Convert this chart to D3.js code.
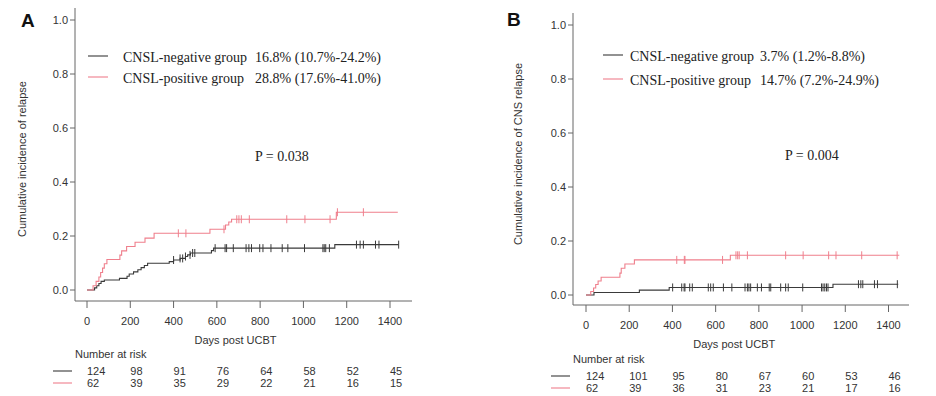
<!DOCTYPE html>
<html>
<head>
<meta charset="utf-8">
<script src="https://cdn.jsdelivr.net/npm/d3@7"></script>
<style>
  body { margin: 0; background: #fff; }
  svg { display: block; }
  .tick-lab { font-family: "Liberation Sans", Arial, sans-serif; font-size: 11px; fill: #333; }
  .leg { font-family: "Liberation Serif", "Times New Roman", serif; font-size: 14px; fill: #222; }
</style>
</head>
<body>
<svg id="chart" width="936" height="396"></svg>
<script>
// x ticks (days) and y ticks shared by both panels
var xTicks = [0, 200, 400, 600, 800, 1000, 1200, 1400];
var yTicks = [0, 0.2, 0.4, 0.6, 0.8, 1.0];

// panel A: cumulative incidence of relapse, steps are [day, value]
var relNegSteps = [[0, 0], [35, 0.008], [45, 0.016], [55, 0.024], [65, 0.032], [80, 0.037], [150, 0.043],
  [185, 0.051], [195, 0.059], [215, 0.067], [235, 0.075], [250, 0.083], [265, 0.091], [280, 0.099],
  [380, 0.105], [400, 0.111], [430, 0.117], [455, 0.124], [465, 0.130], [478, 0.137], [575, 0.146],
  [585, 0.155], [1145, 0.168]];
var relNegCensor = [400, 430, 442, 455, 476, 488, 498, 592, 638, 645, 676, 735, 748, 760, 798, 813, 850,
  902, 928, 1005, 1090, 1096, 1103, 1120, 1245, 1262, 1277, 1333, 1349, 1440];
var relNegEnd = 1440;
var relPosSteps = [[0, 0], [28, 0.016], [42, 0.032], [55, 0.048], [63, 0.065], [72, 0.081], [80, 0.097],
  [92, 0.113], [152, 0.129], [160, 0.145], [183, 0.161], [222, 0.177], [268, 0.192], [310, 0.21],
  [568, 0.225], [640, 0.241], [655, 0.252], [668, 0.262], [1152, 0.288]];
var relPosCensor = [422, 457, 633, 692, 702, 713, 750, 923, 1007, 1123, 1157, 1277];
var relPosEnd = 1436;
var riskNegA = [124, 98, 91, 76, 64, 58, 52, 45];
var riskPosA = [62, 39, 35, 29, 22, 21, 16, 15];

// panel B: cumulative incidence of CNS relapse
var cnsNegSteps = [[0, 0], [37, 0.009], [247, 0.018], [385, 0.028], [1143, 0.040]];
var cnsNegCensor = [401, 443, 454, 458, 480, 492, 566, 577, 589, 636, 675, 736, 747, 754, 762, 793, 812,
  848, 855, 901, 924, 936, 1003, 1090, 1097, 1105, 1113, 1120, 1261, 1272, 1281, 1335, 1349, 1441];
var cnsNegEnd = 1445;
var cnsPosSteps = [[0, 0], [22, 0.013], [35, 0.026], [45, 0.039], [56, 0.052], [70, 0.066], [157, 0.081],
  [163, 0.099], [180, 0.115], [224, 0.130], [668, 0.147]];
var cnsPosCensor = [420, 455, 458, 632, 694, 702, 709, 747, 924, 1005, 1123, 1157, 1276, 1440];
var cnsPosEnd = 1450;
var riskNegB = [124, 101, 95, 80, 67, 60, 53, 46];
var riskPosB = [62, 39, 36, 31, 23, 21, 17, 16];

var NEG_COL = '#3a3a3a', POS_COL = '#ef7f8c', AXIS_COL = '#666';
var svg = d3.select('#chart');

function drawPanel(p) {
  var g = svg.append('g');
  var x = d3.scaleLinear().domain([0, 1400]).range([p.x0, p.x1]);
  var y = d3.scaleLinear().domain([0, 1]).range([p.y0, p.y1]);

  // L-shaped frame
  g.append('path')
    .attr('d', 'M' + p.ax + ',' + p.axTop + 'V' + p.axY + 'H' + p.axRight)
    .attr('fill', 'none').attr('stroke', AXIS_COL).attr('stroke-width', 1);

  // y ticks
  yTicks.forEach(function(v) {
    g.append('line').attr('x1', p.ax - 5).attr('x2', p.ax).attr('y1', y(v)).attr('y2', y(v))
      .attr('stroke', AXIS_COL);
    g.append('text').attr('class', 'tick-lab').attr('x', p.ax - 7).attr('y', y(v)).attr('dy', '0.35em')
      .attr('text-anchor', 'end').text(d3.format('.1f')(v));
  });
  // x ticks
  xTicks.forEach(function(t) {
    g.append('line').attr('x1', x(t)).attr('x2', x(t)).attr('y1', p.axY).attr('y2', p.axY + 7)
      .attr('stroke', AXIS_COL);
    g.append('text').attr('class', 'tick-lab').attr('x', x(t)).attr('y', p.axY + 24)
      .attr('text-anchor', 'middle').text(t);
  });
  g.append('text').attr('class', 'tick-lab').attr('x', (p.x0 + p.x1) / 2 - 3).attr('y', p.axY + 43)
    .attr('text-anchor', 'middle').text('Days post UCBT');

  // y label
  g.append('text').attr('class', 'tick-lab')
    .attr('transform', 'translate(' + p.ylabX + ',' + p.ylabY + ') rotate(-90)')
    .attr('text-anchor', 'middle').text(p.ylab);

  // panel letter
  g.append('text').attr('x', p.letterX).attr('y', p.letterY)
    .style('font-family', '"Liberation Sans", Arial, sans-serif').style('font-weight', 'bold')
    .style('font-size', '19px').attr('fill', '#111').text(p.letter);

  // curves
  var line = d3.line().x(function(d) { return x(d[0]); }).y(function(d) { return y(d[1]); })
    .curve(d3.curveStepAfter);
  function valueAt(steps, t) {
    var v = 0;
    steps.forEach(function(s) { if (s[0] <= t) { v = s[1]; } });
    return v;
  }
  p.series.forEach(function(s) {
    var pts = s.steps.concat([[s.end, s.steps[s.steps.length - 1][1]]]);
    g.append('path').attr('d', line(pts)).attr('fill', 'none')
      .attr('stroke', s.color).attr('stroke-width', 1.1);
    g.selectAll(null).data(s.censor).enter().append('line')
      .attr('x1', function(d) { return x(d); }).attr('x2', function(d) { return x(d); })
      .attr('y1', function(d) { return y(valueAt(s.steps, d)) - 4; })
      .attr('y2', function(d) { return y(valueAt(s.steps, d)) + 4; })
      .attr('stroke', s.color).attr('stroke-width', 1);
  });

  // legend
  p.series.forEach(function(s, i) {
    var ly = p.legY[i];
    g.append('line').attr('x1', p.legX).attr('x2', p.legX + 20).attr('y1', ly).attr('y2', ly)
      .attr('stroke', s.color).attr('stroke-width', 1.1);
    g.append('text').attr('class', 'leg').attr('x', p.legTextX).attr('y', ly + 6).text(s.name);
    g.append('text').attr('class', 'leg').attr('x', p.valX).attr('y', ly + 6).text(s.ci);
  });
  g.append('text').attr('class', 'leg').attr('x', p.pX).attr('y', p.pY).text(p.pText);

  // number at risk table
  g.append('text').attr('class', 'tick-lab').attr('x', p.ax).attr('y', p.riskY - 17).text('Number at risk');
  p.series.forEach(function(s, i) {
    var ry = p.riskY + i * 12;
    g.append('line').attr('x1', p.ax - 22).attr('x2', p.ax - 3).attr('y1', ry - 4).attr('y2', ry - 4)
      .attr('stroke', s.color).attr('stroke-width', 1.1);
    g.selectAll(null).data(s.risk).enter().append('text').attr('class', 'tick-lab')
      .attr('x', function(d, j) { return x(xTicks[j]); }).attr('y', ry).text(function(d) { return d; });
  });
}

drawPanel({
  letter: 'A', letterX: 21, letterY: 27,
  x0: 87, x1: 390, y0: 290, y1: 20, ax: 75, axTop: 8, axY: 301, axRight: 412,
  ylab: 'Cumulative incidence of relapse', ylabX: 26, ylabY: 159,
  legX: 88, legTextX: 123, legY: [56, 77], valX: 255, pX: 255, pY: 161, pText: 'P = 0.038', riskY: 375,
  series: [
    { name: 'CNSL-negative group', ci: '16.8% (10.7%-24.2%)', color: NEG_COL,
      steps: relNegSteps, censor: relNegCensor, end: relNegEnd, risk: riskNegA },
    { name: 'CNSL-positive group', ci: '28.8% (17.6%-41.0%)', color: POS_COL,
      steps: relPosSteps, censor: relPosCensor, end: relPosEnd, risk: riskPosA }
  ]
});

drawPanel({
  letter: 'B', letterX: 507, letterY: 26,
  x0: 586, x1: 888.5, y0: 295, y1: 25, ax: 573, axTop: 13, axY: 305, axRight: 909,
  ylab: 'Cumulative incidence of CNS relapse', ylabX: 522, ylabY: 154,
  legX: 603, legTextX: 630, legY: [55, 79], valX: 760, pX: 785, pY: 160, pText: 'P = 0.004', riskY: 380,
  series: [
    { name: 'CNSL-negative group', ci: '3.7% (1.2%-8.8%)', color: NEG_COL,
      steps: cnsNegSteps, censor: cnsNegCensor, end: cnsNegEnd, risk: riskNegB },
    { name: 'CNSL-positive group', ci: '14.7% (7.2%-24.9%)', color: POS_COL,
      steps: cnsPosSteps, censor: cnsPosCensor, end: cnsPosEnd, risk: riskPosB }
  ]
});
</script>
</body>
</html>
